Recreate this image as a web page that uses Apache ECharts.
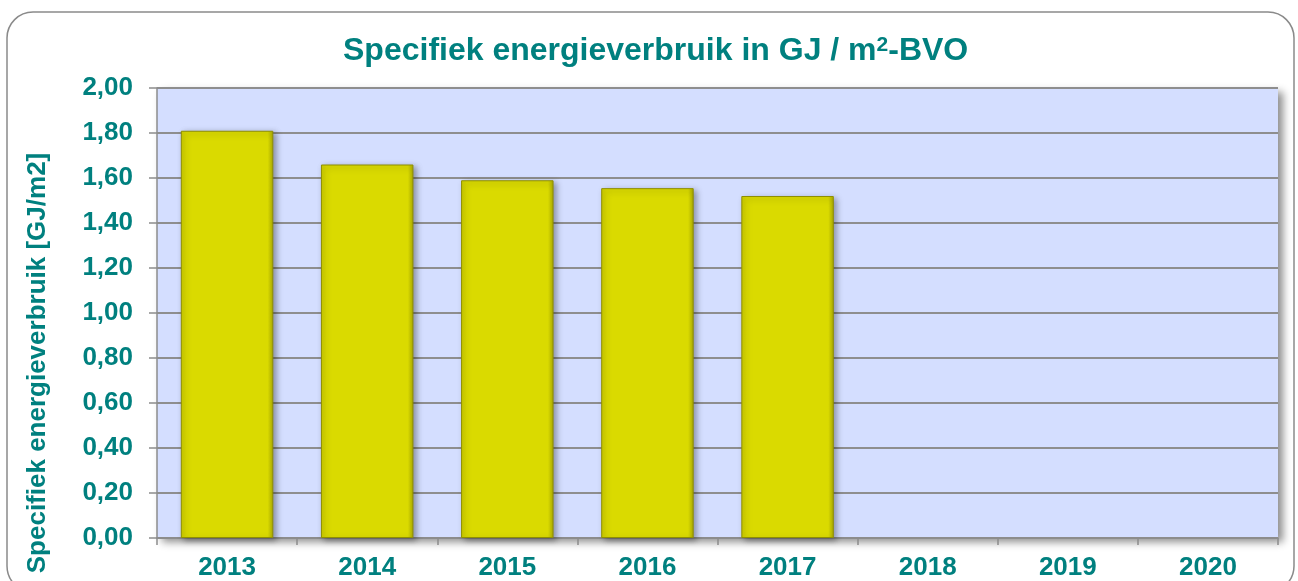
<!DOCTYPE html>
<html>
<head>
<meta charset="utf-8">
<script src="https://cdn.jsdelivr.net/npm/echarts@6/dist/echarts.min.js"></script>
<style>
  html, body { margin: 0; padding: 0; background: #fff; }
  #chart { width: 1298px; height: 581px; }
</style>
</head>
<body>
<div id="chart"></div>
<script>
// jaren en verbruik (GJ/m2)
const years = ['2013', '2014', '2015', '2016', '2017', '2018', '2019', '2020'];
const verbruik = [1.81, 1.66, 1.59, 1.555, 1.52, null, null, null];

const teal = '#00807f';
const font = '"Liberation Sans", Arial, sans-serif';

const myChart = echarts.init(document.getElementById('chart'));

const option = {
  animation: false,
  textStyle: { fontFamily: font },
  graphic: [
    {
      type: 'rect',
      shape: { x: 7, y: 12, width: 1287, height: 580, r: 26 },
      style: { fill: 'none', stroke: '#8a8a8a', lineWidth: 1.5 },
      z: -10
    },
    {
      // schaduw van het plotvlak
      type: 'rect',
      shape: { x: 157, y: 88, width: 1121, height: 450 },
      style: {
        fill: '#d4deff',
        shadowBlur: 8,
        shadowOffsetX: 5,
        shadowOffsetY: 4,
        shadowColor: 'rgba(0,0,0,0.45)'
      },
      z: -5
    }
  ],
  title: {
    text: 'Specifiek energieverbruik in GJ / m{sup|2}-BVO',
    left: 338,
    top: 30,
    textStyle: {
      color: teal,
      fontSize: 32,
      fontWeight: 'bold',
      fontFamily: font,
      rich: {
        sup: {
          color: teal,
          fontSize: 21,
          fontWeight: 'bold',
          fontFamily: font,
          verticalAlign: 'top',
          padding: [0, 0, 8, 0]
        }
      }
    }
  },
  grid: {
    left: 157,
    right: 20,
    top: 88,
    bottom: 43,
    containLabel: false
  },
  xAxis: {
    type: 'category',
    data: years,
    axisLine: { lineStyle: { color: '#8c8c8c', width: 1.5 } },
    axisTick: { show: true, length: 7, lineStyle: { color: '#8c8c8c', width: 1.5 } },
    axisLabel: {
      color: teal,
      fontSize: 26,
      fontWeight: 'bold',
      fontFamily: font,
      margin: 17
    }
  },
  yAxis: {
    type: 'value',
    min: 0,
    max: 2,
    interval: 0.2,
    name: 'Specifiek energieverbruik [GJ/m2]',
    nameLocation: 'middle',
    nameGap: 106,
    nameTextStyle: {
      color: teal,
      fontSize: 26,
      fontWeight: 'bold',
      fontFamily: font,
      padding: [0, 0, 0, -100]
    },
    axisLine: { show: true, lineStyle: { color: '#8c8c8c', width: 1.5 } },
    axisTick: { show: true, length: 8, lineStyle: { color: '#8c8c8c', width: 1.5 } },
    axisLabel: {
      color: teal,
      fontSize: 26,
      fontWeight: 'bold',
      fontFamily: font,
      margin: 24,
      formatter: v => v.toFixed(2).replace('.', ',')
    },
    splitLine: { lineStyle: { color: '#8e8e8e', width: 2 } }
  },
  series: [
    {
      type: 'bar',
      data: verbruik,
      barCategoryGap: '34%',
      itemStyle: {
        color: {
          type: 'linear', x: 0, y: 0, x2: 1, y2: 0,
          colorStops: [
            { offset: 0, color: '#c9c900' },
            { offset: 0.06, color: '#dada00' },
            { offset: 0.94, color: '#dada00' },
            { offset: 1, color: '#a9a900' }
          ]
        },
        borderColor: '#8f8f00',
        borderWidth: 1,
        shadowBlur: 6,
        shadowOffsetX: 3,
        shadowOffsetY: 2,
        shadowColor: 'rgba(0,0,0,0.35)'
      }
    }
  ]
};

myChart.setOption(option);
</script>
</body>
</html>
